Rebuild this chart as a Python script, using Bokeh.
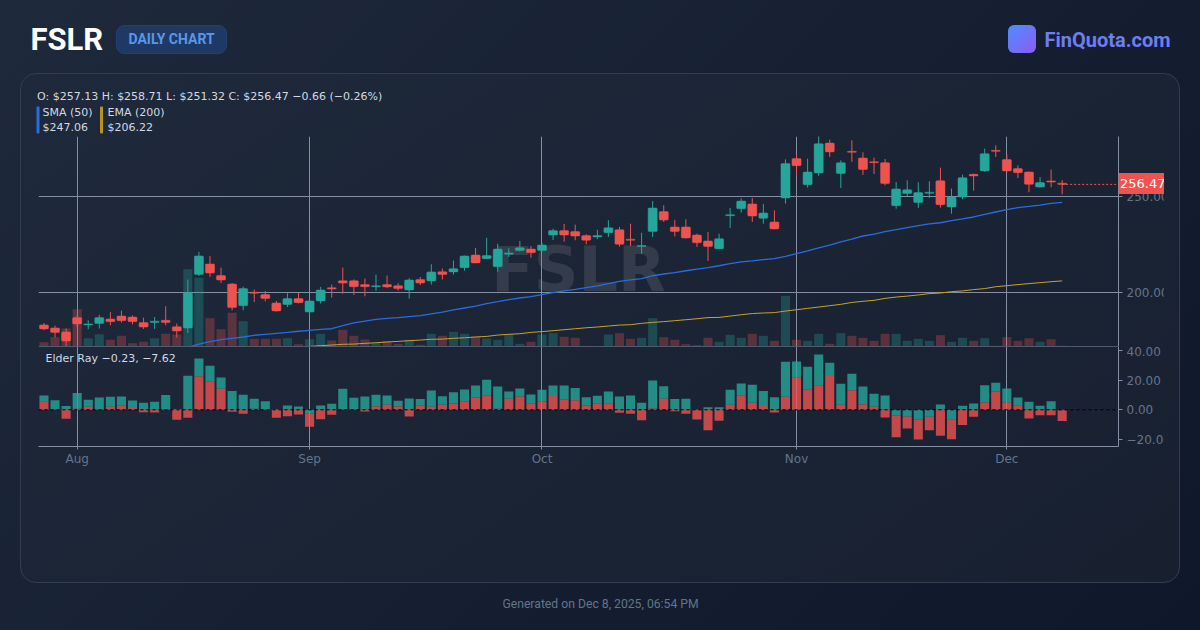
from bokeh.core.properties import value
from bokeh.embed import file_html
from bokeh.layouts import column
from bokeh.models import (ColumnDataSource, Div, FixedTicker, Range1d, Span)
from bokeh.plotting import figure
from bokeh.resources import INLINE

opens = [183.3,181.7,179.6,187.1,183.3,184.0,186.4,187.9,187.4,184.5,184.6,185.7,182.4,181.7,209.5,215.0,209.0,204.6,193.3,200.3,199.1,194.7,193.9,197.0,190.0,195.8,202.7,206.3,206.3,204.3,203.2,204.3,203.7,201.5,207.0,206.2,211.0,210.9,213.1,219.7,217.8,213.6,220.1,222.0,222.8,222.0,230.1,232.4,231.9,229.8,229.1,231.3,232.9,227.9,224.1,231.9,242.3,234.3,234.3,230.1,227.0,223.0,240.2,243.8,246.3,238.8,236.9,249.4,269.9,256.3,262.4,278.0,262.1,273.7,270.2,268.3,267.8,245.4,251.7,247.0,251.8,258.4,244.7,249.9,261.7,263.5,274.2,269.4,264.7,262.9,255.1,258.3,257.13]
highs = [184.3,182.9,181.4,188.3,185.7,188.6,190.0,190.7,188.3,187.1,187.4,193.0,184.0,206.9,221.3,219.2,213.1,205.1,203.2,201.7,201.0,195.8,199.8,199.9,196.1,203.1,204.3,213.1,207.0,207.4,209.5,209.0,205.1,207.7,208.3,214.9,212.6,216.8,219.4,223.4,228.7,225.6,223.2,227.0,224.4,226.0,233.4,235.9,235.5,230.5,232.9,237.8,234.3,236.0,231.3,247.8,245.6,237.9,238.3,230.8,231.7,230.8,244.2,249.2,249.4,246.3,243.0,269.5,272.0,269.9,281.7,279.8,269.0,279.4,273.2,270.4,269.7,257.7,258.6,257.6,258.1,265.2,254.3,261.6,262.1,275.1,276.8,272.1,266.4,263.1,260.3,264.2,258.71]
lows = [180.5,176.7,171.8,182.2,181.0,181.4,183.1,184.6,183.6,181.2,181.2,183.1,176.7,179.1,208.8,208.3,205.1,190.9,190.9,195.2,195.6,190.2,192.6,194.5,188.8,194.4,197.5,199.6,198.9,198.2,201.0,202.4,201.1,197.0,204.1,204.3,207.0,209.5,211.6,215.4,217.6,211.0,218.7,221.5,218.3,221.5,227.5,226.7,227.4,225.3,227.9,229.1,224.1,224.4,220.4,229.1,236.9,229.4,228.2,223.9,216.6,222.8,233.8,241.8,236.9,236.0,233.1,246.5,260.7,254.8,260.9,270.8,254.6,268.2,261.4,261.9,256.0,243.8,250.4,244.2,249.4,244.4,241.2,248.7,253.2,263.1,270.8,263.1,259.8,252.4,254.8,255.0,251.32]
closes = [181.2,179.3,174.9,183.8,183.8,187.1,185.0,185.5,185.0,182.2,185.2,184.6,180.1,200.1,219.2,210.3,206.7,192.3,202.2,199.8,197.0,190.6,197.0,194.9,195.8,201.5,202.0,205.1,203.2,203.2,203.7,203.1,202.2,206.7,205.1,210.9,209.5,212.6,219.2,215.6,219.4,222.8,220.8,223.5,220.9,224.9,232.4,230.1,229.6,227.4,229.8,233.9,225.3,227.4,224.6,244.2,237.9,231.9,228.6,226.1,224.1,228.2,240.7,247.8,240.0,241.6,233.3,267.3,266.2,262.9,277.7,273.4,267.8,273.2,264.2,267.8,256.9,254.1,253.7,252.2,252.4,245.9,249.9,260.0,260.9,272.5,273.7,263.5,262.6,256.5,257.4,257.7,256.47]
volumes = [0.65,1.4,2.7,5.6,1.25,1.85,1.0,1.6,0.5,0.7,1.25,1.9,1.8,11.6,10.3,4.25,2.6,5.05,3.8,1.15,1.15,1.15,1.25,0.35,1.1,1.9,0.9,2.5,1.6,1.05,0.5,0.8,0.4,1.0,0.25,1.9,1.6,2.2,1.9,1.5,1.2,1.0,1.85,0.4,0.7,1.8,2.0,1.45,1.3,0.1,0.05,1.8,2.0,1.15,1.3,4.25,1.4,1.0,0.35,0.2,1.3,0.7,1.75,1.3,1.9,1.6,0.85,7.6,1.0,0.85,1.9,0.4,2.0,1.6,1.3,0.85,1.9,1.9,0.85,1.15,0.85,1.7,0.7,1.3,0.85,1.25,0.1,1.4,0.85,1.25,0.7,1.1,0.1]
sma_start = 13
sma_50 = [171.6,173.3,174.6,175.6,176.3,177.0,177.9,178.4,178.9,179.4,180.0,180.5,181.0,181.3,182.9,184.3,185.3,186.2,186.7,187.1,187.6,188.1,189.0,190.0,191.1,192.1,193.1,194.4,195.4,196.5,197.3,198.0,199.1,200.1,201.0,201.8,202.7,203.6,204.8,206.0,206.7,207.4,208.9,209.8,210.5,211.5,212.4,213.1,214.1,215.2,216.1,216.6,217.3,217.8,219.0,220.4,221.8,223.4,224.9,226.5,228.0,229.6,230.6,231.9,232.9,234.0,235.0,235.9,236.5,237.6,238.5,239.5,240.9,242.1,243.3,244.4,245.0,245.7,246.6,247.06]
ema_start = 22
ema_200 = [171.4,172.0,172.1,172.5,172.8,173.2,173.3,173.7,174.0,174.4,174.7,175.1,175.4,175.8,175.9,176.3,176.6,177.0,177.3,178.0,178.4,178.7,179.4,179.8,180.3,180.8,181.3,181.8,182.2,182.7,183.2,183.4,184.1,184.6,185.0,185.5,186.0,186.5,187.1,187.2,187.9,188.6,189.2,189.5,189.7,190.5,191.2,191.9,192.6,193.3,194.0,195.0,195.6,196.1,197.1,197.8,198.3,198.9,199.6,199.9,200.6,201.0,201.7,202.2,203.2,203.7,204.3,204.8,205.3,205.8,206.22]
bull_power = [9.65,6.5,2.5,11.4,6.7,8.3,8.8,9.0,6.3,4.7,5.4,9.9,0.5,22.9,34.6,29.6,21.8,12.6,10.1,7.4,5.8,0.4,2.9,2.2,-2.7,2.9,4.0,14.1,8.1,9.0,10.1,9.7,6.1,7.6,7.2,13.0,9.2,11.9,13.7,16.4,20.2,15.7,12.3,14.4,10.3,13.5,16.4,16.4,14.6,8.5,9.4,12.3,9.0,9.7,4.7,19.8,15.9,7.2,7.4,0.2,1.8,1.8,13.5,17.7,16.8,12.6,8.5,32.3,32.6,29.0,37.3,31.7,17.5,24.2,15.7,10.8,9.7,-3.8,-4.5,-6.5,-4.7,3.6,-6.3,2.7,4.3,16.6,18.2,14.4,8.3,5.4,2.7,5.8,-0.23]
bear_power = [5.8,0.3,-6.1,0.7,2.0,0.4,2.0,2.9,1.3,-1.6,-1.8,0.2,-6.7,-5.4,22.5,18.9,14.1,-1.3,-2.7,0.7,0.1,-5.4,-4.3,-3.1,-11.4,-6.3,-3.4,0.4,0.2,-1.1,2.2,3.4,2.2,-4.5,2.7,2.0,3.4,4.3,5.4,8.3,9.4,0.7,7.4,9.0,4.0,5.6,9.9,7.0,6.5,2.9,4.0,4.0,-2.0,-2.7,-7.0,0.9,7.4,-0.9,-2.7,-6.5,-13.7,-7.4,3.4,9.4,4.7,2.5,-1.8,8.8,22.0,13.5,16.6,22.7,3.4,13.2,3.6,2.0,-5.2,-18.4,-12.6,-20.0,-13.7,-17.5,-19.8,-10.3,-4.7,4.9,12.3,4.9,2.7,-5.8,-3.6,-3.6,-7.62]
month_ticks = [3, 24, 45, 68, 87]
month_labels = ["Aug", "Sep", "Oct", "Nov", "Dec"]
price_ticks = [200, 250]
price_labels = ["200.00", "250.00"]
elder_ticks = [-20, 0, 20, 40]
elder_labels = ["\u221220.00", "0.00", "20.00", "40.00"]

UP = "#26a69a"
DOWN = "#ef5350"
LINE = "#858fa3"
MUTED = "#64748b"
CLIP = "polygon(0 0, 1136px 0, 1136px 100%, 0 100%)"

idx = list(range(len(closes)))
is_up = [c >= o for o, c in zip(opens, closes)]


def subset(mask):
    keep = [i for i in idx if mask(i)]
    return ColumnDataSource(dict(
        x=keep,
        h=[highs[i] for i in keep],
        l=[lows[i] for i in keep],
        top=[max(opens[i], closes[i]) for i in keep],
        bot=[min(opens[i], closes[i]) for i in keep],
        v=[volumes[i] for i in keep],
    ))


x_range = Range1d(-0.494, 97.09)

# ---- page chrome (drawn in page pixels)
bg = figure(width=1184, height=614, frame_width=1184, frame_height=614, x_range=Range1d(8, 1192),
            y_range=Range1d(622, 8), output_backend="svg", x_axis_location=None, y_axis_location=None,
            toolbar_location=None, min_border=0, min_border_left=0, min_border_right=0,
            min_border_top=0, min_border_bottom=0, outline_line_color=None, frame_align=False,
            background_fill_alpha=0, border_fill_alpha=0,
            styles={"position": "absolute", "left": "8px", "top": "8px"})
bg.grid.visible = False
bg.quad(left=[116], right=[226], top=[25], bottom=[53], fill_color="#1e3a64", line_color="#24426f", border_radius=8)
bg.quad(left=[36], right=[39], top=[106], bottom=[133], fill_color="#2a6be0", line_alpha=0, border_radius=1)
bg.quad(left=[99.5], right=[102.5], top=[106], bottom=[133], fill_color="#b8921e", line_alpha=0, border_radius=1)


def put(x, y, t, font="DejaVu Sans", size="11px", color="#d3d8e2", style="normal", align="left", alpha=1.0):
    bg.text(x=[x], y=[y], text=[t], text_font=value(font), text_font_size=value(size), text_color=color,
            text_font_style=style, text_align=align, text_baseline="middle", text_alpha=alpha)


put(30, 38.5, "FSLR", "Roboto", "31px", "#ffffff", "bold")
put(128, 38.5, "DAILY CHART", "Roboto", "14px", "#5a96ea", "bold")
put(1044, 39, "FinQuota.com", "Roboto", "20px", "#6d7ff0", "bold")
put(600, 603, "Generated on Dec 8, 2025, 06:54 PM", "Roboto", "12.2px", "#64748b", "normal", "center")
put(36.5, 95.5, "O: $257.13 H: $258.71 L: $251.32 C: $256.47 \u22120.66 (\u22120.26%)")
put(42, 112, "SMA (50)")
put(42, 127, "$247.06")
put(107, 112, "EMA (200)")
put(107, 127, "$206.22")
put(45, 358, "Elder Ray \u22120.23, \u22127.62")
put(578, 269, "FSLR", "DejaVu Sans", "62px", "#ffffff", "bold", "center", 0.11)

# ---- price pane
main = figure(width=1136, height=218, frame_width=1080, frame_height=210, x_range=x_range,
              y_range=Range1d(172.05, 281.42), output_backend="svg", toolbar_location=None,
              min_border_left=10, min_border_top=8, min_border_bottom=0, min_border_right=46,
              outline_line_color=None, background_fill_alpha=0, border_fill_alpha=0, frame_align=False,
              x_axis_location=None, y_axis_location="right",
              styles={"position": "absolute", "left": "28px", "top": "128px", "clip-path": CLIP})
main.extra_y_ranges["vol"] = Range1d(0, 31.5)
for ax in main.yaxis:
    ax.ticker = FixedTicker(ticks=price_ticks)
    ax.major_label_overrides = dict(zip(price_ticks, price_labels))
    ax.major_label_text_font = "DejaVu Sans"
    ax.major_label_text_font_size = "12px"
    ax.major_label_text_color = MUTED
    ax.major_label_standoff = 4
    ax.major_tick_line_color = LINE
    ax.major_tick_out = 4
    ax.major_tick_in = 0
    ax.minor_tick_line_color = None
    ax.axis_line_color = LINE
main.ygrid.ticker = FixedTicker(ticks=price_ticks)
main.ygrid.grid_line_color = LINE
main.xgrid.ticker = FixedTicker(ticks=month_ticks)
main.xgrid.grid_line_color = LINE

up_src = subset(lambda i: is_up[i])
down_src = subset(lambda i: not is_up[i])
main.vbar(x="x", top="v", bottom=0, width=0.82, source=up_src, y_range_name="vol",
          fill_color=UP, fill_alpha=0.3, line_alpha=0)
main.vbar(x="x", top="v", bottom=0, width=0.82, source=down_src, y_range_name="vol",
          fill_color=DOWN, fill_alpha=0.3, line_alpha=0)
main.line(x=list(range(sma_start, sma_start + len(sma_50))), y=sma_50, line_color="#2a6be0", line_width=1.3)
main.line(x=list(range(ema_start, ema_start + len(ema_200))), y=ema_200, line_color="#c9a227", line_width=1)
for src, col in ((up_src, UP), (down_src, DOWN)):
    main.segment(x0="x", x1="x", y0="l", y1="h", source=src, line_color=col, line_width=1)
    main.vbar(x="x", top="top", bottom="bot", width=0.82, source=src, fill_color=col, line_color=col,
              line_width=0.5, border_radius=1)
main.line(x=[idx[-1], x_range.end], y=[closes[-1], closes[-1]], line_color=DOWN,
          line_width=1, line_dash=[2, 2])

# ---- last price tag, on the price scale, above the axis labels
tag = figure(width=46, height=210, frame_width=46, frame_height=210, x_range=Range1d(0, 46),
             y_range=main.y_range, output_backend="svg", toolbar_location=None,
             x_axis_location=None, y_axis_location=None, min_border=0, min_border_left=0,
             min_border_right=0, min_border_top=0, min_border_bottom=0, outline_line_color=None,
             background_fill_alpha=0, border_fill_alpha=0, frame_align=False,
             styles={"position": "absolute", "left": "1118px", "top": "135px"})
tag.grid.visible = False
tag.rect(x=[23], y=[closes[-1]], width=[46], height=[21], height_units="screen", fill_color=DOWN, line_alpha=0)
tag.text(x=[1.5], y=[closes[-1]], text=[f"{closes[-1]:.2f}"], text_color="#ffffff", text_font=value("DejaVu Sans"),
         text_font_size=value("13px"), text_baseline="middle", text_align="left")

# ---- elder ray pane
elder = figure(width=1136, height=124, frame_width=1080, frame_height=100, x_range=x_range,
               y_range=Range1d(-24.71, 42.63), output_backend="svg", toolbar_location=None,
               min_border_left=10, min_border_top=0, min_border_bottom=24, min_border_right=46,
               outline_line_color=None, background_fill_alpha=0, border_fill_alpha=0, frame_align=False,
               y_axis_location="right",
               styles={"position": "absolute", "left": "28px", "top": "346px", "clip-path": CLIP})
for ax in list(elder.yaxis) + list(elder.xaxis):
    ax.major_label_text_font = "DejaVu Sans"
    ax.major_label_text_font_size = "12px"
    ax.major_label_text_color = MUTED
    ax.major_tick_line_color = LINE
    ax.major_tick_in = 0
    ax.minor_tick_line_color = None
    ax.axis_line_color = LINE
elder.yaxis.major_tick_out = 4
elder.yaxis.major_label_standoff = 4
elder.xaxis.major_tick_out = 3
elder.xaxis.major_label_standoff = 2
elder.yaxis.ticker = FixedTicker(ticks=elder_ticks)
elder.yaxis.major_label_overrides = dict(zip(elder_ticks, elder_labels))
elder.xaxis.ticker = FixedTicker(ticks=month_ticks)
elder.xaxis.major_label_overrides = dict(zip(month_ticks, month_labels))
elder.xgrid.ticker = FixedTicker(ticks=month_ticks)
elder.xgrid.grid_line_color = LINE
elder.ygrid.visible = False
# the shorter power sits next to zero; the longer one shows only beyond it
green_bottom = [max(be, 0) if bu >= 0 else 0 for bu, be in zip(bull_power, bear_power)]
red_bottom = [min(bu, 0) if be < 0 else 0 for bu, be in zip(bull_power, bear_power)]
elder.vbar(x=idx, top=bull_power, bottom=green_bottom, width=0.82, fill_color=UP, fill_alpha=0.8, line_alpha=0)
elder.vbar(x=idx, top=bear_power, bottom=red_bottom, width=0.82, fill_color=DOWN, fill_alpha=0.8, line_alpha=0)
elder.add_layout(Span(location=0, dimension="width", line_color="#000000", line_dash=[3, 3], line_width=1))
elder.add_layout(Span(location=elder.y_range.end, dimension="width", line_color=LINE, line_width=1))

card = Div(text="", width=1160, height=510, margin=0, styles={
    "position": "absolute", "left": "20px", "top": "73px", "box-sizing": "border-box",
    "background": "linear-gradient(145deg,#1e293b,#182030)", "border": "1px solid #323e50", "border-radius": "16px"})
logo = Div(text="", width=28, height=28, margin=0, styles={
    "position": "absolute", "left": "1008px", "top": "25px",
    "background": "linear-gradient(135deg,#4d8dfb,#8b5cf6)", "border-radius": "6px"})

root = column(card, logo, bg, main, elder, tag, width=1184, height=614)
TEMPLATE = ("{% block postamble %}<style>html{height:100%;background:linear-gradient(135deg,#1e293b,#0f172a)}"
            "body{background:transparent}</style>{% endblock %}")
open("out.html", "w").write(file_html(root, INLINE, template=TEMPLATE))
